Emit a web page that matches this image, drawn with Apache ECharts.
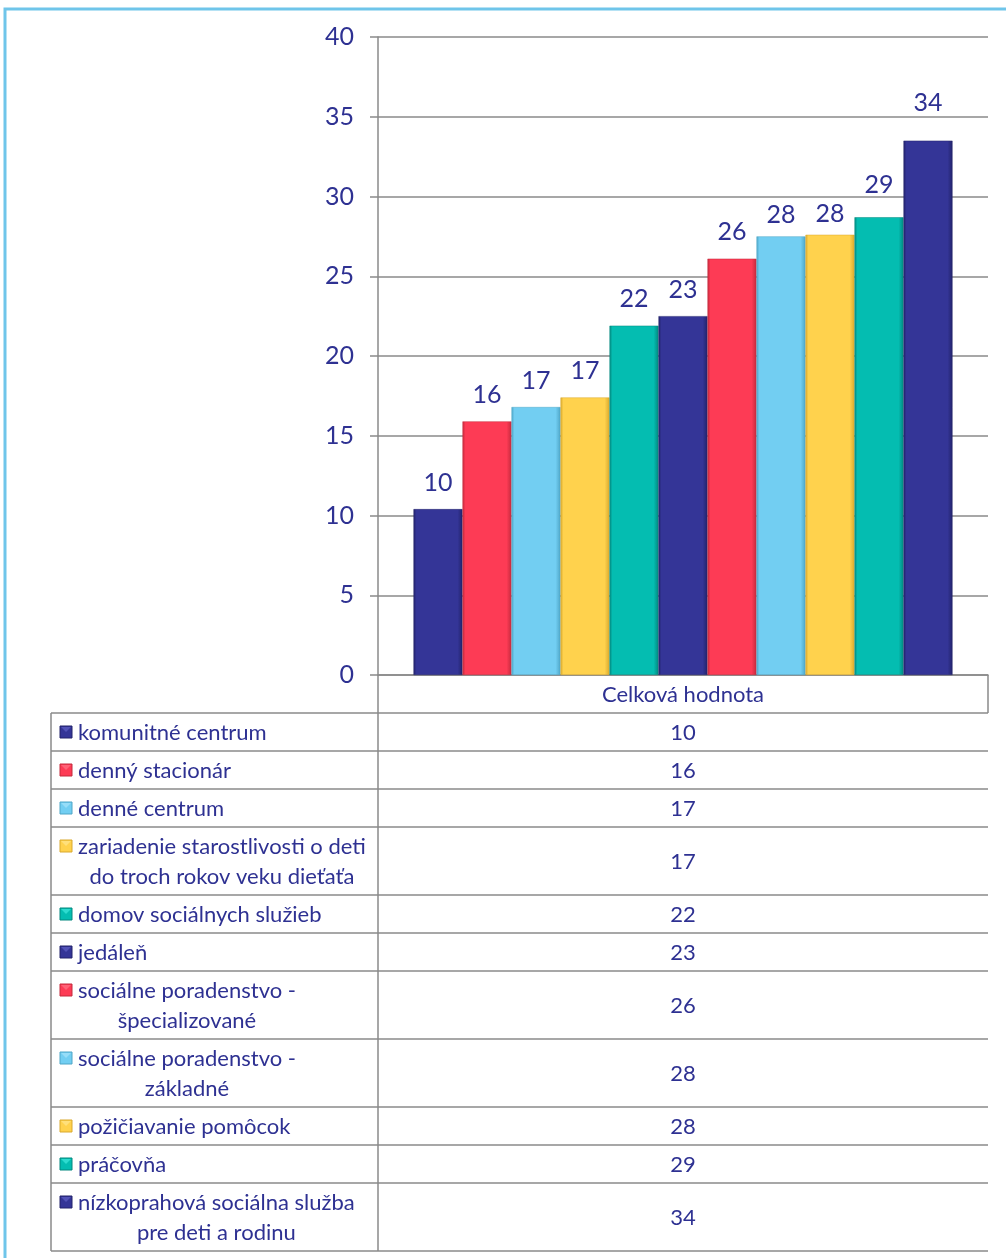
<!DOCTYPE html>
<html>
<head>
<meta charset="utf-8">
<script src="https://cdn.jsdelivr.net/npm/echarts@6/dist/echarts.min.js"></script>
<style>
  html, body { margin: 0; padding: 0; background: #fff; }
  #chart { width: 1006px; height: 1258px; }
</style>
</head>
<body>
<div id="chart"></div>
<script>
// údaje
var categoryName = 'Celková hodnota';
var serviceNames = [
  'komunitné centrum',
  'denný stacionár',
  'denné centrum',
  'zariadenie starostlivosti o deti\ndo troch rokov veku dieťaťa',
  'domov sociálnych služieb',
  'jedáleň',
  'sociálne poradenstvo -\nšpecializované',
  'sociálne poradenstvo -\nzákladné',
  'požičiavanie pomôcok',
  'práčovňa',
  'nízkoprahová sociálna služba\npre deti a rodinu'
];
var serviceValues = [10.4, 15.9, 16.8, 17.4, 21.9, 22.5, 26.1, 27.5, 27.6, 28.7, 33.5];
var serviceLabels = [10, 16, 17, 17, 22, 23, 26, 28, 28, 29, 34];
var yTicks = [0, 5, 10, 15, 20, 25, 30, 35, 40];

// štýly
var palette = ['#343597', '#FD3B55', '#72CEF2', '#FFD24D', '#04BDB1'];
var darker = ['#22236b', '#c42a3d', '#4ea6c7', '#d9a92e', '#03887f'];
var lighter = ['#5f60c4', '#ff7284', '#a6e4fb', '#ffe58f', '#3fe8dc'];
var labelShift = [0, 0, 0, 0, 0, 0, 0, 5, 6, -6, -11]; // posun popisov ako v Exceli
var textColor = '#2E3192';
var lineColor = '#8a8a8a';
var fontName = 'Lato, "Liberation Sans", sans-serif';

var chart = echarts.init(document.getElementById('chart'), null, { renderer: 'canvas' });

// rozmery
var gridLeft = 378, gridRight = 988, gridTop = 37, gridBottom = 675;
var tableLeft = 51, headerBottom = 713;

function barColor(i) {
  var c = palette[i % 5], d = darker[i % 5];
  return new echarts.graphic.LinearGradient(0, 0, 1, 0, [
    { offset: 0, color: d },
    { offset: 0.06, color: c },
    { offset: 0.9, color: c },
    { offset: 1, color: d }
  ]);
}

// séria pre každú službu
var series = serviceNames.map(function (name, i) {
  return {
    name: name,
    type: 'bar',
    barWidth: 49,
    barGap: '0%',
    data: [serviceValues[i]],
    itemStyle: { color: barColor(i), borderColor: darker[i % 5], borderWidth: 0.5 },
    label: {
      show: true,
      position: 'top',
      distance: 14,
      offset: [0, labelShift[i]],
      color: textColor,
      fontSize: 25,
      fontFamily: fontName,
      formatter: function () { return serviceLabels[i]; }
    }
  };
});

// meranie šírky textu
var measureCtx = document.createElement('canvas').getContext('2d');
function textWidth(t, size) {
  measureCtx.font = size + 'px ' + fontName;
  return measureCtx.measureText(t).width;
}

// tabuľka pod grafom
function buildTable() {
  var els = [];
  var lineStyle = { stroke: lineColor, lineWidth: 1.5 };
  var font = '22px ' + fontName;
  // hlavička
  els.push({ type: 'line', shape: { x1: gridRight, y1: gridBottom, x2: gridRight, y2: headerBottom }, style: lineStyle });
  els.push({ type: 'text', x: (gridLeft + gridRight) / 2, y: (gridBottom + headerBottom) / 2 + 1,
    style: { text: categoryName, fill: textColor, font: font, align: 'center', verticalAlign: 'middle' } });
  var y = headerBottom;
  els.push({ type: 'line', shape: { x1: tableLeft, y1: y, x2: gridRight, y2: y }, style: lineStyle });
  serviceNames.forEach(function (name, i) {
    var lines = name.split('\n');
    var h = lines.length > 1 ? 68 : 38;
    var cy = y + h / 2;
    var firstY = cy - (lines.length - 1) * 15;
    // kľúč legendy
    els.push({ type: 'rect', shape: { x: 60, y: firstY - 6, width: 12, height: 12 },
      style: { fill: palette[i % 5], stroke: darker[i % 5], lineWidth: 1 } });
    els.push({ type: 'polygon', shape: { points: [[61, firstY - 5], [71, firstY - 5], [66, firstY]] },
      style: { fill: lighter[i % 5], opacity: 0.7 } });
    var w1 = textWidth(lines[0], 22);
    lines.forEach(function (ln, k) {
      els.push({ type: 'text', x: k === 0 ? 78 : 78 + w1 / 2, y: firstY + k * 30 + 1,
        style: { text: ln, fill: textColor, font: font, align: k === 0 ? 'left' : 'center', verticalAlign: 'middle' } });
    });
    els.push({ type: 'text', x: (gridLeft + gridRight) / 2, y: cy + 1,
      style: { text: String(serviceLabels[i]), fill: textColor, font: font, align: 'center', verticalAlign: 'middle' } });
    y += h;
    els.push({ type: 'line', shape: { x1: tableLeft, y1: y, x2: gridRight, y2: y }, style: lineStyle });
  });
  els.push({ type: 'line', shape: { x1: tableLeft, y1: headerBottom, x2: tableLeft, y2: y }, style: lineStyle });
  els.push({ type: 'line', shape: { x1: gridLeft, y1: gridBottom, x2: gridLeft, y2: y }, style: lineStyle });
  // okraj grafu
  els.push({ type: 'rect', shape: { x: 5, y: 9, width: 1010, height: 1260 },
    style: { fill: 'none', stroke: '#6FC5EA', lineWidth: 3 } });
  return els;
}

var option = {
  animation: false,
  grid: { left: gridLeft, right: 1006 - gridRight, top: gridTop, bottom: 1258 - gridBottom },
  xAxis: {
    type: 'category',
    data: [categoryName],
    axisLine: { show: true, lineStyle: { color: lineColor, width: 1.5 } },
    axisTick: { show: false },
    axisLabel: { show: false }
  },
  yAxis: {
    type: 'value',
    min: yTicks[0],
    max: yTicks[yTicks.length - 1],
    interval: 5,
    axisLine: { show: true, lineStyle: { color: lineColor, width: 1.5 } },
    axisTick: { show: true, length: 8, lineStyle: { color: lineColor, width: 1.5 } },
    axisLabel: { color: textColor, fontSize: 25, fontFamily: fontName, margin: 24 },
    splitLine: { lineStyle: { color: lineColor, width: 1.5 } }
  },
  series: series,
  graphic: buildTable()
};

chart.setOption(option);
</script>
</body>
</html>
